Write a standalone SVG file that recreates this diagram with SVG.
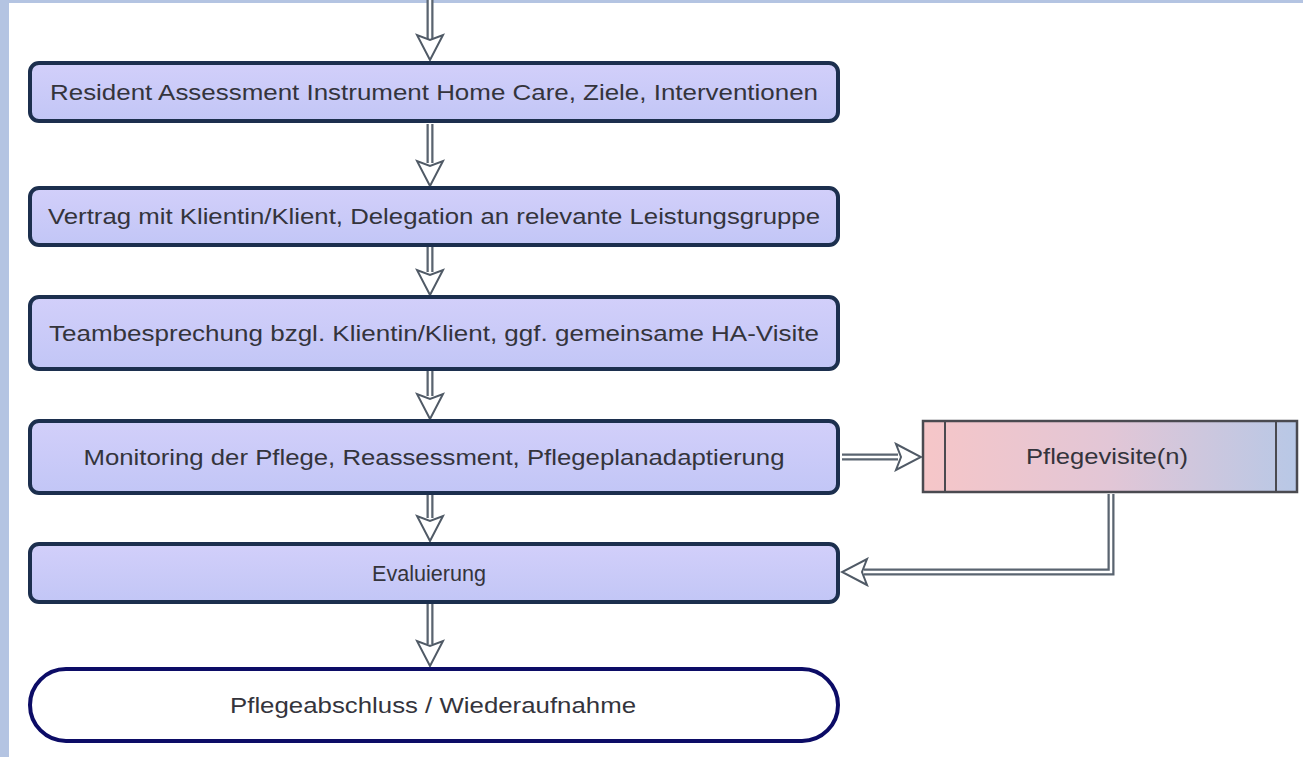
<svg xmlns="http://www.w3.org/2000/svg" width="1303" height="757" viewBox="0 0 1303 757">
<defs>
<linearGradient id="gBox" x1="0" y1="0" x2="0" y2="1">
<stop offset="0" stop-color="#d2cffa"/>
<stop offset="1" stop-color="#c2c6f6"/>
</linearGradient>
<linearGradient id="gSub" x1="0" y1="0" x2="1" y2="0">
<stop offset="0" stop-color="#f6c6c8"/>
<stop offset="0.5" stop-color="#e2c6d6"/>
<stop offset="1" stop-color="#b8c8e6"/>
</linearGradient>
<marker id="ah" viewBox="0 0 30 30" refX="28" refY="15" markerWidth="30" markerHeight="30" markerUnits="userSpaceOnUse" orient="auto">
<path d="M3,2 L28,15 L3,28 L8,15 Z" fill="#ffffff" stroke="#505a66" stroke-width="2" stroke-linejoin="miter"/>
</marker>
</defs>
<style>
.proc{fill:url(#gBox);stroke:#1c2f4e;stroke-width:4}
.term{fill:#ffffff;stroke:#0c0c66;stroke-width:4}
.sub{fill:url(#gSub);stroke:#4a4a50;stroke-width:2.5}
.lbl{font-family:"Liberation Sans",Arial,sans-serif;font-size:22px;fill:#34343c;text-anchor:middle}
.outer{fill:none;stroke:#5a6470;stroke-width:7}
.inner{fill:none;stroke:#ffffff;stroke-width:2.5}
</style>
<rect x="0" y="0" width="1303" height="757" fill="#ffffff"/>
<rect x="0" y="0" width="9" height="757" fill="#b4c4e2"/>
<rect x="0" y="0" width="1303" height="3" fill="#b4c4e2"/>

<g id="connectors">
<path class="outer" d="M430,0 V40"/><path class="inner" d="M430,0 V41"/>
<path d="M430,30 V60" fill="none" stroke="none" marker-end="url(#ah)"/>
<path class="outer" d="M430,124 V163"/><path class="inner" d="M430,124 V164"/>
<path d="M430,150 V186" fill="none" stroke="none" marker-end="url(#ah)"/>
<path class="outer" d="M430,247 V272"/><path class="inner" d="M430,247 V273"/>
<path d="M430,260 V295" fill="none" stroke="none" marker-end="url(#ah)"/>
<path class="outer" d="M430,371 V396"/><path class="inner" d="M430,371 V397"/>
<path d="M430,384 V419" fill="none" stroke="none" marker-end="url(#ah)"/>
<path class="outer" d="M430,495 V518"/><path class="inner" d="M430,495 V519"/>
<path d="M430,506 V541" fill="none" stroke="none" marker-end="url(#ah)"/>
<path class="outer" d="M430,604 V644"/><path class="inner" d="M430,604 V645"/>
<path d="M430,630 V666" fill="none" stroke="none" marker-end="url(#ah)"/>
<path class="outer" d="M842,457 H898"/><path class="inner" d="M842,457 H899"/>
<path d="M880,457 H921" fill="none" stroke="none" marker-end="url(#ah)"/>
<path class="outer" d="M1111,494 V572 H864"/><path class="inner" d="M1111,494 V572 H863"/>
<path d="M880,572 H842" fill="none" stroke="none" marker-end="url(#ah)"/>
</g>

<g id="node1">
<rect class="proc" x="30" y="63" width="808" height="58" rx="9"/>
<text class="lbl" x="434" y="100" textLength="768" lengthAdjust="spacingAndGlyphs">Resident Assessment Instrument Home Care, Ziele, Interventionen</text>
</g>
<g id="node2">
<rect class="proc" x="30" y="188" width="808" height="57" rx="9"/>
<text class="lbl" x="434" y="224" textLength="772" lengthAdjust="spacingAndGlyphs">Vertrag mit Klientin/Klient, Delegation an relevante Leistungsgruppe</text>
</g>
<g id="node3">
<rect class="proc" x="30" y="297" width="808" height="72" rx="9"/>
<text class="lbl" x="434" y="341" textLength="770" lengthAdjust="spacingAndGlyphs">Teambesprechung bzgl. Klientin/Klient, ggf. gemeinsame HA-Visite</text>
</g>
<g id="node4">
<rect class="proc" x="30" y="421" width="808" height="72" rx="9"/>
<text class="lbl" x="434" y="465" textLength="701" lengthAdjust="spacingAndGlyphs">Monitoring der Pflege, Reassessment, Pflegeplanadaptierung</text>
</g>
<g id="node5">
<rect class="proc" x="30" y="544" width="808" height="58" rx="9"/>
<text class="lbl" x="429" y="581" textLength="114" lengthAdjust="spacingAndGlyphs">Evaluierung</text>
</g>
<g id="node6">
<rect class="term" x="30" y="669" width="808" height="72" rx="36"/>
<text class="lbl" x="433" y="713" textLength="406" lengthAdjust="spacingAndGlyphs">Pflegeabschluss / Wiederaufnahme</text>
</g>
<g id="node7">
<rect class="sub" x="923" y="421" width="374" height="71"/>
<line x1="945" y1="421" x2="945" y2="492" stroke="#4a4a50" stroke-width="2"/>
<line x1="1276" y1="421" x2="1276" y2="492" stroke="#4a4a50" stroke-width="2"/>
<text class="lbl" x="1107" y="464" textLength="162" lengthAdjust="spacingAndGlyphs">Pflegevisite(n)</text>
</g>
</svg>
